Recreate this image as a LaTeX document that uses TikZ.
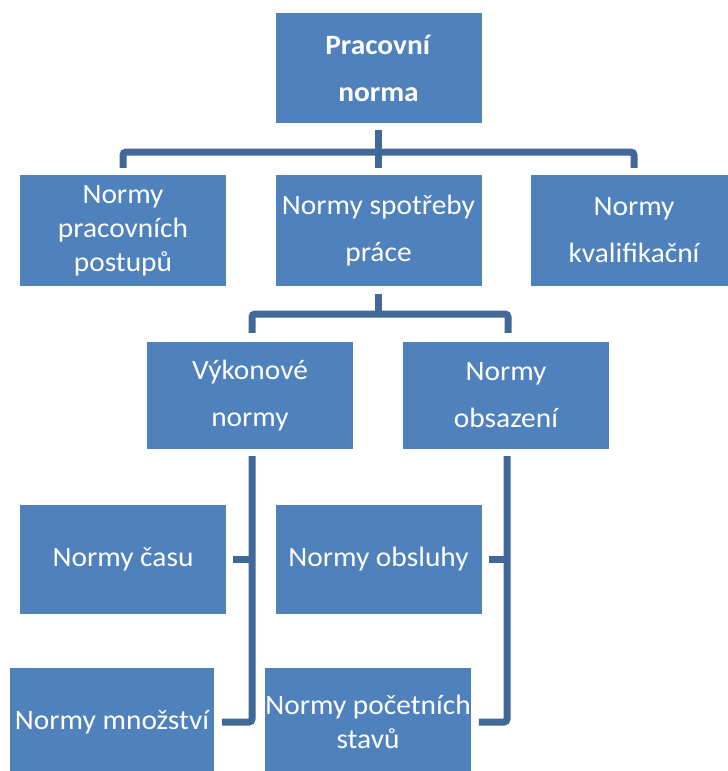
\documentclass[tikz,border=0pt]{standalone}
\usepackage{fontspec}
\setmainfont{Carlito}[FakeStretch=1.05]
\usetikzlibrary{calc}
\definecolor{boxblue}{RGB}{79,129,189}
\definecolor{connblue}{RGB}{64,104,152}
\tikzset{
  box/.style={draw=none, fill=boxblue, text=white, align=center,
    minimum width=206pt, minimum height=109pt, inner sep=0pt,
    font=\fontsize{28}{47}\selectfont},
  tight/.style={font=\fontsize{28}{34}\selectfont},
  conn/.style={draw=connblue, line width=7pt, rounded corners=3pt}
}
\begin{document}
\begin{tikzpicture}[x=1pt,y=-1pt]
\useasboundingbox (0,0) rectangle (728,771);
\node[box, minimum height=110pt] (top) at (378.5,68) {\textbf{Pracovní}\\\textbf{norma}};
\node[box, tight, minimum height=111pt] (ppost) at (123,230.5) {Normy\\pracovních\\postupů};
\node[box, minimum height=111pt] (spot) at (378.5,230.5) {Normy spotřeby\\práce};
\node[box, minimum height=111pt] (kval) at (634,230.5) {Normy\\kvalifikační};
\node[box, minimum height=107pt] (vyk) at (250,395.5) {Výkonové\\normy};
\node[box, minimum height=107pt] (obs) at (506,395.5) {Normy\\obsazení};
\node[box] (cas) at (123,559.5) {Normy času};
\node[box] (obsl) at (378.5,559.5) {Normy obsluhy};
\node[box, minimum width=204pt, minimum height=108pt] (mnoz) at (112,722) {Normy množství};
\node[box, tight, minimum width=204pt, minimum height=108pt] (pocet) at (368,722) {Normy početních\\stavů};
% level 1
\coordinate (m1) at ($(top.south)!0.56!(spot.north)$);
\draw[conn] ([yshift=-7pt]top.south) -- ([yshift=7pt]spot.north);
\draw[conn] ([yshift=7pt]ppost.north) |- (m1) -| ([yshift=7pt]kval.north);
% level 2
\coordinate (m2) at ($(spot.south)!0.5!(spot.south |- vyk.north)$);
\draw[conn] ([yshift=-8pt]spot.south) -- (m2);
\draw[conn] ([xshift=2pt,yshift=9pt]vyk.north) |- (m2) -| ([xshift=2pt,yshift=9pt]obs.north);
% level 3
\draw[conn] ([xshift=2pt,yshift=-7pt]vyk.south) |- ([xshift=8pt]mnoz.east);
\draw[conn] ([xshift=7pt]cas.east) -- ($(cas.east -| vyk.south)+(2,0)$);
\draw[conn] ([xshift=1pt,yshift=-7pt]obs.south) |- ([xshift=8pt]pocet.east);
\draw[conn] ([xshift=7pt]obsl.east) -- ($(obsl.east -| obs.south)+(1,0)$);
\end{tikzpicture}
\end{document}
